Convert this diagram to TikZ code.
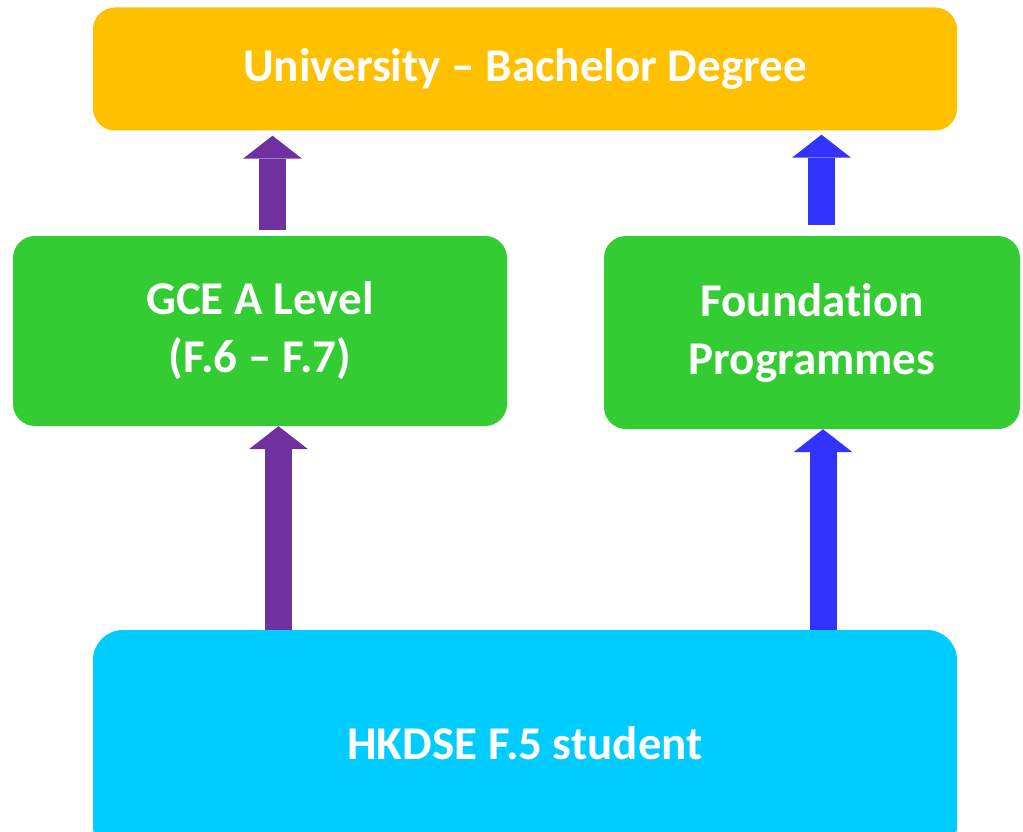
\documentclass[tikz,border=0pt]{standalone}
\usepackage{fontspec}
\setmainfont[Ligatures=NoCommon]{Carlito}
\usetikzlibrary{arrows.meta}
\definecolor{uniorange}{HTML}{FFC000}
\definecolor{stagegreen}{HTML}{33CC33}
\definecolor{dsecyan}{HTML}{00CCFF}
\definecolor{routepurple}{HTML}{7030A0}
\definecolor{routeblue}{HTML}{3333FF}
\tikzset{
  stage/.style = {rounded corners=22pt, inner sep=0pt, text=white, align=center,
    font=\fontsize{47}{58}\selectfont\bfseries},
  uparrow/.style = {line width=27pt,
    -{Triangle[width=59pt,length=23pt,line width=0pt]}}
}

\begin{document}
\begin{tikzpicture}[x=1pt,y=-1pt]
  \clip (0,0) rectangle (1023,832);
  \node[stage, fill=uniorange, minimum width=864pt, minimum height=123pt] (uni) at (525,69) {University -- Bachelor Degree};
  \node[stage, fill=stagegreen, minimum width=494pt, minimum height=190pt] (gce) at (260,331) {GCE A Level\\(F.6 -- F.7)};
  \node[stage, fill=stagegreen, minimum width=416pt, minimum height=193pt] (fnd) at (812,332.5) {Foundation\\Programmes};
  \node[stage, rounded corners=30pt, fill=dsecyan, minimum width=864pt, minimum height=226pt] (dse) at (525,743) {HKDSE F.5 student};
  % routes
  \draw[uparrow, routepurple] (278.5,0 |- dse.north) -- (278.5,0 |- gce.south);
  \draw[uparrow, routepurple, shorten <=6pt, shorten >=5pt] (272.5,0 |- gce.north) -- (272.5,0 |- uni.south);
  \draw[uparrow, routeblue] (823,0 |- dse.north) -- (823,0 |- fnd.south);
  \draw[uparrow, routeblue, shorten <=11pt, shorten >=4pt] (821.5,0 |- fnd.north) -- (821.5,0 |- uni.south);
\end{tikzpicture}
\end{document}
